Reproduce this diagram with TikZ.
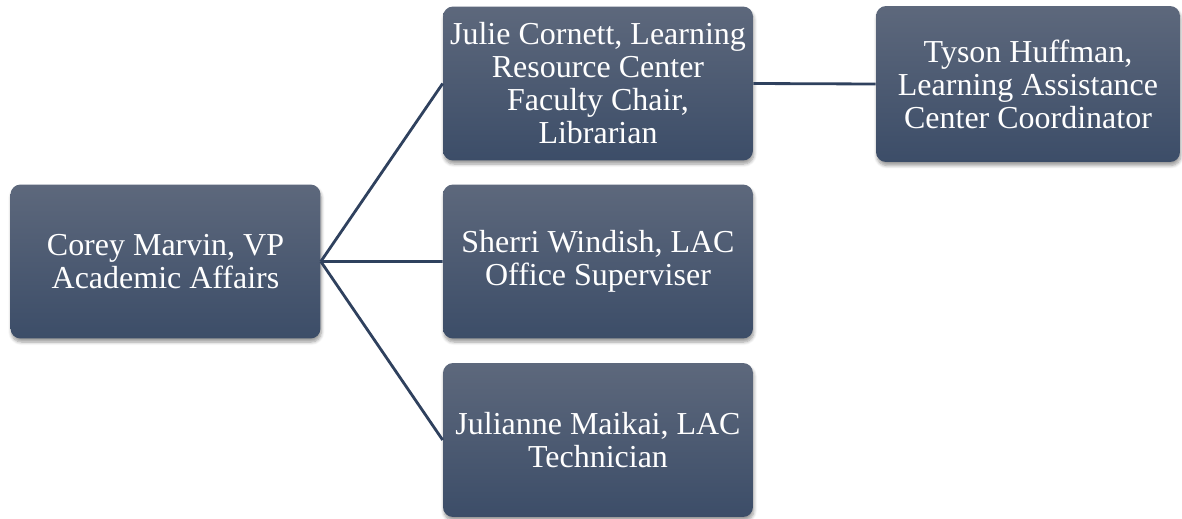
\documentclass[tikz,border=0pt]{standalone}
\usepackage{fontspec}
\setmainfont{Liberation Serif}
\usetikzlibrary{shadows.blur}

\definecolor{boxtop}{RGB}{93,104,124}
\definecolor{boxbot}{RGB}{60,77,104}
\definecolor{link}{RGB}{47,65,94}

\begin{document}
\begin{tikzpicture}[x=0.02cm,y=-0.02cm,
 every node/.style={font=\fontsize{18.2}{18.8}\selectfont},
 person/.style={rectangle,rounded corners=0.2cm,top color=boxtop,bottom color=boxbot,
  text=white,align=center,minimum width=6.2cm,minimum height=3.08cm,inner sep=2pt,
  blur shadow={shadow xshift=0.5pt,shadow yshift=-2pt,shadow blur steps=6,shadow opacity=40}},
 tie/.style={draw=link,line width=1.6pt}]
\useasboundingbox (0,0) rectangle (1182,518);
\node[person] (corey) at (165.5,261.5) {Corey Marvin, VP\\Academic Affairs};
\node[person] (julie) at (598,83.5) {Julie Cornett, Learning\\Resource Center\\Faculty Chair,\\Librarian};
\node[person] (sherri) at (598,261.5) {Sherri Windish, LAC\\Office Superviser};
\node[person] (julianne) at (598,440) {Julianne Maikai, LAC\\Technician};
\node[person,minimum width=6.08cm,minimum height=3.12cm] (tyson) at (1028,84)
 {Tyson Huffman,\\Learning Assistance\\Center Coordinator};
\draw[tie] (corey.east)--(julie.west) (corey.east)--(sherri.west)
 (corey.east)--(julianne.west) (julie.east)--(tyson.west);
\end{tikzpicture}
\end{document}
